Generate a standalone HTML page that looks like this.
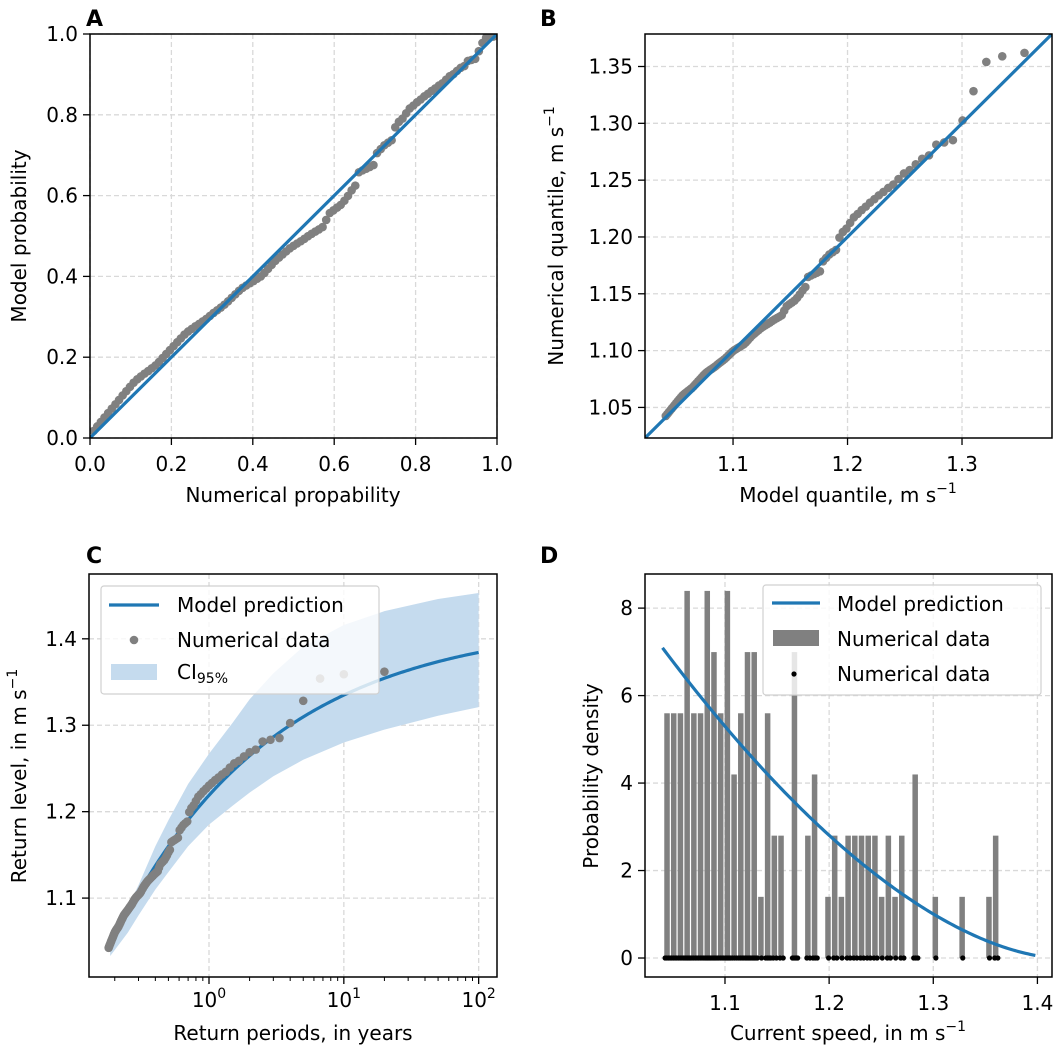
<!DOCTYPE html>
<html><head><meta charset="utf-8"><style>
html,body{margin:0;padding:0;background:#fff;}
svg text{font-family:"DejaVu Sans","Liberation Sans",sans-serif;fill:#000;}
</style></head><body>
<svg id="fig" width="1055" height="1052" viewBox="0 0 1055 1052" xmlns="http://www.w3.org/2000/svg">
<rect x="0" y="0" width="1055" height="1052" fill="#fff"/>
<text x="86" y="26" font-size="22" font-weight="bold">A</text>
<text x="540" y="26" font-size="22" font-weight="bold">B</text>
<text x="86" y="563" font-size="22" font-weight="bold">C</text>
<text x="540" y="563" font-size="22" font-weight="bold">D</text>
<text x="293" y="502" font-size="20" text-anchor="middle">Numerical propability</text>
<text transform="translate(26,236) rotate(-90)" font-size="20" text-anchor="middle">Model probability</text>
<text x="848" y="502" font-size="20" text-anchor="middle">Model quantile, m s<tspan font-size="14" dy="-9">−1</tspan></text>
<text transform="translate(563,236) rotate(-90)" font-size="20" text-anchor="middle">Numerical quantile, m s<tspan font-size="14" dy="-9">−1</tspan></text>
<text x="293" y="1040" font-size="20" text-anchor="middle">Return periods, in years</text>
<text transform="translate(26,776) rotate(-90)" font-size="20" text-anchor="middle">Return level, in m s<tspan font-size="14" dy="-9">−1</tspan></text>
<text x="848" y="1040" font-size="20" text-anchor="middle">Current speed, in m s<tspan font-size="14" dy="-9">−1</tspan></text>
<text transform="translate(598,776) rotate(-90)" font-size="20" text-anchor="middle">Probability density</text>
</svg>
<script>
// ---- data ----
const samples = [1.0425,1.0441,1.0457,1.0473,1.0489,1.0505,1.0521,1.0537,1.0554,1.0570,1.0586,1.0602,
1.0615,1.0626,1.0637,1.0647,1.0658,1.0669,1.0683,1.0699,1.0715,1.0731,1.0747,1.0763,1.0779,1.0795,
1.0808,1.0819,1.0830,1.0840,1.0851,1.0862,1.0875,1.0888,1.0900,1.0912,1.0925,1.0940,1.0956,1.0972,1.0988,
1.1002,1.1013,1.1024,1.1034,1.1045,1.1056,1.1073,1.1093,1.1113,1.1133,1.1149,1.1165,1.1181,
1.1197,1.1210,1.1222,1.1234,1.1247,1.1261,1.1274,1.1286,1.1298,1.1311,1.1351,1.1391,1.1407,1.1423,1.1439,
1.1464,1.1494,1.1529,1.1559,1.1648,1.1661,1.1673,1.1685,1.1698,1.1786,1.1816,1.1846,1.1866,1.1886,
1.1995,1.2044,1.2074,1.2124,1.2173,1.2203,1.2237,1.2267,1.2302,1.2332,1.2366,1.2396,1.2431,1.2461,
1.2510,1.2559,1.2589,1.2639,1.2688,1.2718,1.2812,1.2832,1.2852,1.3025,1.3283,1.3540,1.3590,1.3620];
const modelU = 1.04;
const modelSigma = 0.141;
const modelXi = -0.37;
const recordYears = 20;
const ciPeriods = [0.185,0.2,0.25,0.3,0.4,0.5,0.7,1,1.5,2,3,5,10,20,50,100];
const ciLower = [1.033,1.040,1.060,1.080,1.110,1.130,1.160,1.185,1.207,1.222,1.241,1.260,1.280,1.295,1.311,1.321];
const ciUpper = [1.040,1.058,1.090,1.115,1.160,1.190,1.232,1.267,1.303,1.330,1.360,1.391,1.416,1.432,1.446,1.453];
const histStart = 1.0417;
const histWidth = 0.00644;
const histBins = 50;
const aTicks = [0,0.2,0.4,0.6,0.8,1.0];
const aTickLabels = ["0.0","0.2","0.4","0.6","0.8","1.0"];
const bXTicks = [1.1,1.2,1.3];
const bYTicks = [1.05,1.10,1.15,1.20,1.25,1.30,1.35];
const cXTicks = [1,10,100];
const cXTickExp = ["0","1","2"];
const cYTicks = [1.1,1.2,1.3,1.4];
const dXTicks = [1.1,1.2,1.3,1.4];
const dYTicks = [0,2,4,6,8];

// ---- helpers ----
const NS = 'http://www.w3.org/2000/svg';
const svg = document.getElementById('fig');
function mk(tag, attrs, parent){ const e=document.createElementNS(NS,tag); for(const k in attrs) e.setAttribute(k,attrs[k]); (parent||svg).appendChild(e); return e; }
const BLUE='#1f77b4', GRAY='#808080', GRID='#d9d9d9';
const n = samples.length;
function modelCdf(x){ const t=1+modelXi*(x-modelU)/modelSigma; return t<=0?1:1-Math.pow(t,-1/modelXi); }
function modelQ(p){ return modelU+modelSigma/modelXi*(Math.pow(1-p,-modelXi)-1); }
function modelPdf(x){ const t=1+modelXi*(x-modelU)/modelSigma; return t<=0?0:(1/modelSigma)*Math.pow(t,-1/modelXi-1); }

function makeAxes(key, px0, px1, py0, py1, xd, yd, xlog){
  const sx = v => { const a=xlog?Math.log10(v):v; return px0+(a-xd[0])/(xd[1]-xd[0])*(px1-px0); };
  const sy = v => py1-(v-yd[0])/(yd[1]-yd[0])*(py1-py0);
  const g = mk('g',{});
  
  
  const cp = mk('clipPath',{id:'clip-'+key}, g);
  mk('rect',{x:px0,y:py0,width:px1-px0,height:py1-py0}, cp);
  const gridG = mk('g',{}, g);
  
  
  const plot = mk('g',{'clip-path':'url(#clip-'+key+')'}, g);
  
  
  const over = mk('g',{}, g);
  
  
  return {sx,sy,g,gridG,plot,over,px0,px1,py0,py1};
}
function xTick(ax, v, label, exp){
  const x=ax.sx(v);
  const gl=mk('line',{x1:x,x2:x,y1:ax.py0,y2:ax.py1,stroke:GRID,'stroke-width':1.3,'stroke-dasharray':'5,3'}, ax.gridG);
  
  
  const t=mk('line',{x1:x,x2:x,y1:ax.py1,y2:ax.py1+7,stroke:'#000','stroke-width':1.3}, ax.over);
  
  
  const tx=mk('text',{x:x,y:ax.py1+33,'font-size':20,'text-anchor':'middle'}, ax.over);
  
  
  if(exp!==undefined){ tx.setAttribute('y',ax.py1+30); tx.textContent='10'; const s=mk('tspan',{'font-size':14,dy:-9},tx); s.textContent=exp; }
  else tx.textContent=label;
}
function yTick(ax, v, label){
  const y=ax.sy(v);
  const gl=mk('line',{x1:ax.px0,x2:ax.px1,y1:y,y2:y,stroke:GRID,'stroke-width':1.3,'stroke-dasharray':'5,3'}, ax.gridG);
  
  
  const t=mk('line',{x1:ax.px0-7,x2:ax.px0,y1:y,y2:y,stroke:'#000','stroke-width':1.3}, ax.over);
  
  
  const tx=mk('text',{x:ax.px0-12,y:y+7,'font-size':20,'text-anchor':'end'}, ax.over);
  
  
  tx.textContent=label;
}
function frame(ax){
  const r=mk('rect',{x:ax.px0,y:ax.py0,width:ax.px1-ax.px0,height:ax.py1-ax.py0,fill:'none',stroke:'#000','stroke-width':1.5}, ax.over);
  
  
}
function dot(ax, x, y, r, fill, name){
  const c=mk('circle',{cx:ax.sx(x),cy:ax.sy(y),r:r,fill:fill}, ax.plot);
  
  
}
function line(ax, xs, ys, name){
  const d=xs.map((x,i)=>(i?'L':'M')+ax.sx(x).toFixed(2)+','+ax.sy(ys[i]).toFixed(2)).join('');
  const p=mk('path',{d:d,fill:'none',stroke:BLUE,'stroke-width':3.2}, ax.plot);
  
  
}

// ---- Panel A ----
const A = makeAxes('a', 90, 497, 34, 438, [0,1], [0,1], false);
aTicks.forEach((v,i)=>{ xTick(A,v,aTickLabels[i]); yTick(A,v,aTickLabels[i]); });
samples.forEach((v,i)=>dot(A,(i+1)/(n+1),modelCdf(v),4.3,GRAY,'a-data-point'));
line(A,[0,1],[0,1],'a-reference-line');
frame(A);

// ---- Panel B ----
const bRange=[1.0231,1.3786];
const B = makeAxes('b', 645, 1052, 34, 438, bRange, bRange, false);
bXTicks.forEach(v=>xTick(B,v,v.toFixed(1)));
bYTicks.forEach(v=>yTick(B,v,v.toFixed(2)));
samples.forEach((v,i)=>dot(B,modelQ((i+1)/(n+1)),v,4.3,GRAY,'b-data-point'));
line(B,bRange,bRange,'b-reference-line');
frame(B);

// ---- Panel C ----
const C = makeAxes('c', 89, 497, 574, 977, [-0.89,2.136], [1.0087,1.475], true);
cXTicks.forEach((v,i)=>xTick(C,v,'',cXTickExp[i]));
[0.2,0.3,0.4,0.5,0.6,0.7,0.8,0.9,2,3,4,5,6,7,8,9,20,30,40,50,60,70,80,90].forEach(v=>{
  const x=C.sx(v);
  const t=mk('line',{x1:x,x2:x,y1:C.py1,y2:C.py1+4,stroke:'#000','stroke-width':1}, C.over);
  
  
});
cYTicks.forEach(v=>yTick(C,v,v.toFixed(1)));
{
  let d='';
  ciPeriods.forEach((t,i)=>{ d+=(i?'L':'M')+C.sx(t).toFixed(2)+','+C.sy(ciUpper[i]).toFixed(2); });
  for(let i=ciPeriods.length-1;i>=0;i--) d+='L'+C.sx(ciPeriods[i]).toFixed(2)+','+C.sy(ciLower[i]).toFixed(2);
  const band=mk('path',{d:d+'Z',fill:'#c5dbee',stroke:'none'}, C.plot);
  
  
}
{
  const lam=n/recordYears, ts=[], zs=[];
  const tmin=1/lam;
  for(let k=0;k<=200;k++){ const t=tmin*Math.pow(100/tmin,k/200); ts.push(t); zs.push(modelQ(Math.max(0,1-1/(lam*t)))); }
  line(C,ts,zs,'c-model-curve');
}
const sortedDesc=[...samples].sort((a,b)=>b-a);
sortedDesc.forEach((v,i)=>dot(C,recordYears/(i+1),v,4.3,GRAY,'c-data-point'));
frame(C);
{
  const lg=mk('g',{}, C.over);
  
  
  mk('rect',{x:101,y:586,width:278,height:108,rx:3,fill:'#fff','fill-opacity':0.8,stroke:'#d0d0d0','stroke-width':1.2}, lg);
  const l1=mk('line',{x1:109,x2:159,y1:605,y2:605,stroke:BLUE,'stroke-width':3.2}, lg);
  
  
  const d1=mk('circle',{cx:134,cy:640,r:4.3,fill:GRAY}, lg);
  
  
  const p1=mk('rect',{x:111,y:664,width:46,height:16,fill:'#c5dbee'}, lg);
  
  
  const labels=['Model prediction','Numerical data'];
  labels.forEach((s,i)=>{ const t=mk('text',{x:177,y:612+i*35,'font-size':20}, lg);   t.textContent=s; });
  const ci=mk('text',{x:177,y:679,'font-size':20}, lg);
  
  
  ci.textContent='CI';
  const sub=mk('tspan',{'font-size':14,dy:4},ci); sub.textContent='95%';
}

// ---- Panel D ----
const D = makeAxes('d', 645, 1052, 574, 977, [1.0232,1.414], [-0.434,8.78], false);
dXTicks.forEach(v=>xTick(D,v,v.toFixed(1)));
dYTicks.forEach(v=>yTick(D,v,String(v)));
{
  const counts=new Array(histBins).fill(0);
  samples.forEach(v=>{ const k=Math.floor((v-histStart)/histWidth); if(k>=0&&k<histBins) counts[k]++; });
  counts.forEach((c,k)=>{
    if(!c) return;
    const x0=D.sx(histStart+k*histWidth), x1=D.sx(histStart+(k+1)*histWidth);
    const h=c/(n*histWidth);
    const r=mk('rect',{x:x0,y:D.sy(h),width:Math.max(0,x1-x0-1.2),height:D.sy(0)-D.sy(h),fill:GRAY}, D.plot);
    
    
  });
}
{
  const xs=[], ys=[];
  for(let k=0;k<=150;k++){ const x=modelU+(1.398-modelU)*k/150; xs.push(x); ys.push(modelPdf(x)); }
  line(D,xs,ys,'d-model-pdf');
}
samples.forEach(v=>dot(D,v,0,2.6,'#000','d-sample-point'));
frame(D);
{
  const lg=mk('g',{}, D.over);
  
  
  mk('rect',{x:763,y:585,width:278,height:110,rx:3,fill:'#fff','fill-opacity':0.8,stroke:'#d0d0d0','stroke-width':1.2}, lg);
  const l1=mk('line',{x1:772,x2:820,y1:603,y2:603,stroke:BLUE,'stroke-width':3.2}, lg);
  
  
  const b1=mk('rect',{x:773,y:630,width:46,height:16,fill:GRAY}, lg);
  
  
  const d1=mk('circle',{cx:794,cy:674,r:2.6,fill:'#000'}, lg);
  
  
  ['Model prediction','Numerical data','Numerical data'].forEach((s,i)=>{ const t=mk('text',{x:837,y:611+i*35,'font-size':20}, lg);   t.textContent=s; });
}
</script>
</body></html>
